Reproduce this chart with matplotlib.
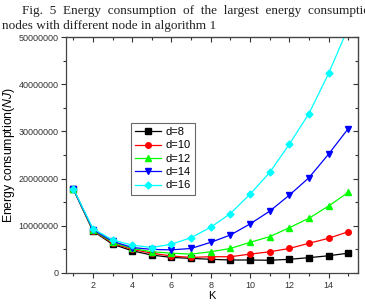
import matplotlib
matplotlib.use("Agg")
import matplotlib.pyplot as plt
from matplotlib.ticker import MultipleLocator

plt.rcParams['font.family'] = ['Liberation Sans', 'DejaVu Sans']
plt.rcParams['mathtext.fontset'] = 'custom'
plt.rcParams['mathtext.it'] = 'Liberation Sans:italic'
plt.rcParams['mathtext.rm'] = 'Liberation Sans'

# K values and energy consumption for each node degree
k = list(range(1, 16))
d8 = [17.8e6, 8.9e6, 6.1e6, 4.7e6, 3.8e6, 3.3e6, 3.1e6, 2.9e6, 2.75e6, 2.75e6, 2.7e6, 2.9e6, 3.25e6, 3.65e6, 4.2e6]
d10 = [17.8e6, 9.0e6, 6.3e6, 5.0e6, 4.2e6, 3.6e6, 3.3e6, 3.45e6, 3.45e6, 4.0e6, 4.5e6, 5.2e6, 6.3e6, 7.35e6, 8.75e6]
d12 = [17.8e6, 9.1e6, 6.5e6, 5.2e6, 4.5e6, 4.2e6, 4.0e6, 4.5e6, 5.2e6, 6.5e6, 7.7e6, 9.6e6, 11.6e6, 14.2e6, 17.1e6]
d14 = [17.8e6, 9.2e6, 6.7e6, 5.4e6, 5.0e6, 4.9e6, 5.2e6, 6.5e6, 8.05e6, 10.4e6, 13.1e6, 16.5e6, 20.2e6, 25.2e6, 30.6e6]
d16 = [17.9e6, 9.4e6, 7.0e6, 5.9e6, 5.4e6, 6.1e6, 7.5e6, 9.7e6, 12.6e6, 16.7e6, 21.3e6, 27.3e6, 33.8e6, 42.3e6, 52.0e6]

series = [("d=8", d8, "black", "s"), ("d=10", d10, "red", "o"),
          ("d=12", d12, "#00ff00", "^"), ("d=14", d14, "blue", "v"),
          ("d=16", d16, "#00ffff", "D")]

fig = plt.figure(figsize=(3.65, 3.04), dpi=100)
ax = fig.add_axes([0.182, 0.102, 0.799, 0.776])

for label, vals, color, marker in series:
    ms = 3.5 if marker == "D" else 4
    ax.plot(k, vals, color=color, marker=marker, markersize=ms, linewidth=0.9, label=label)

ax.set_xlim(0.65, 15.5)
ax.set_ylim(0, 50000000)
ax.xaxis.set_major_locator(MultipleLocator(2))
ax.xaxis.set_minor_locator(MultipleLocator(1))
ax.yaxis.set_major_locator(MultipleLocator(10000000))
ax.yaxis.set_minor_locator(MultipleLocator(5000000))
ax.ticklabel_format(axis='y', style='plain', useOffset=False)

ax.tick_params(which='both', direction='out', labelsize=6.5, colors='#333333', width=0.8, pad=2)
ax.tick_params(which='major', length=3.5)
ax.tick_params(which='minor', length=2)
for s in ax.spines.values():
    s.set_color('#444444')
    s.set_linewidth(0.9)

# mirrored inward ticks on top and right
ax2 = ax.secondary_xaxis('top')
ax2.xaxis.set_major_locator(MultipleLocator(2))
ax2.xaxis.set_minor_locator(MultipleLocator(1))
ax2.tick_params(which='both', direction='in', labeltop=False, colors='#333333', width=0.8)
ax2.tick_params(which='major', length=3.5)
ax2.tick_params(which='minor', length=2)
ay2 = ax.secondary_yaxis('right')
ay2.yaxis.set_major_locator(MultipleLocator(10000000))
ay2.yaxis.set_minor_locator(MultipleLocator(5000000))
ay2.tick_params(which='both', direction='in', labelright=False, colors='#333333', width=0.8)
ay2.tick_params(which='major', length=3.5)
ay2.tick_params(which='minor', length=2)

ax.set_xlabel("K", fontsize=8, labelpad=1)
ax.set_ylabel(r"Energy consumption($\mathit{NJ}$)", fontsize=8.8, labelpad=1)

leg = ax.legend(loc='upper left', bbox_to_anchor=(0.22, 0.637), fontsize=8,
                frameon=True, fancybox=False, handlelength=2.3, handletextpad=0.4,
                labelspacing=0.3, borderpad=0.4, borderaxespad=0)
leg.get_frame().set_edgecolor('#444444')
leg.get_frame().set_linewidth(0.8)

fig.text(0.06, 0.955, "Fig.  5  Energy  consumption  of  the  largest  energy  consumption",
         family='Liberation Serif', fontsize=9.5, va='baseline', ha='left', color='#222222')
fig.text(0.005, 0.905, "nodes with different node in algorithm 1",
         family='Liberation Serif', fontsize=9.5, va='baseline', ha='left', color='#222222')

fig.savefig("out.png", dpi=100)
